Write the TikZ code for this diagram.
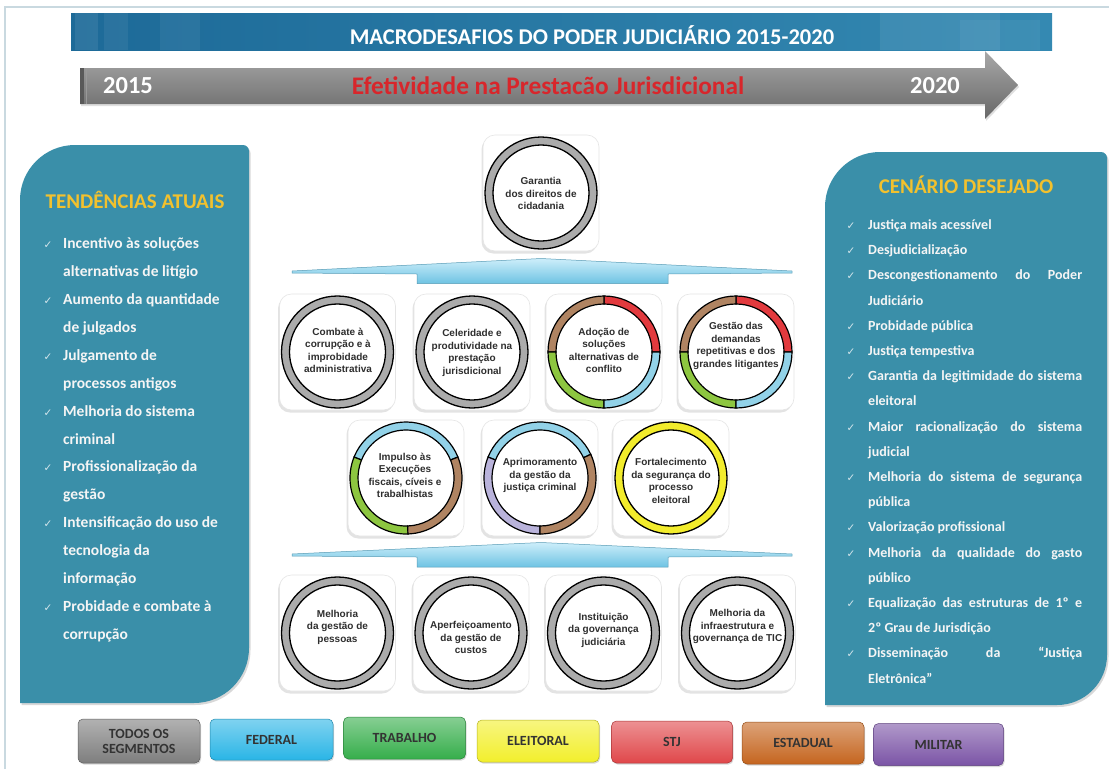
\documentclass[tikz,border=0pt]{standalone}
\usepackage{fontspec}
\setmainfont{Carlito}
\newfontfamily\arialf{Liberation Sans}
\newfontfamily\symf{DejaVu Sans}
\usetikzlibrary{shadows,calc}
\definecolor{panel}{HTML}{3A8FA9}
\definecolor{gold}{HTML}{F2C12E}
\definecolor{bannerA}{HTML}{1D6A98}
\definecolor{bannerB}{HTML}{3489B2}
\definecolor{arrowT}{HTML}{A8A8A8}
\definecolor{arrowB}{HTML}{676767}
\definecolor{redtxt}{HTML}{D8262B}
\definecolor{framec}{HTML}{C9D9E0}
\definecolor{ringgray}{HTML}{ABABAB}
\definecolor{rbrown}{HTML}{B08462}
\definecolor{rred}{HTML}{E23A3E}
\definecolor{rblue}{HTML}{92D2E8}
\definecolor{rgreen}{HTML}{8DC640}
\definecolor{rpurple}{HTML}{B9B3DB}
\definecolor{ryellow}{HTML}{F2EC2C}
\definecolor{brT}{HTML}{CDEEFA}
\definecolor{brB}{HTML}{6EC3E3}
\definecolor{lgray}{HTML}{7E7E7E}
\definecolor{lblue}{HTML}{2AB5E6}
\definecolor{lgreen}{HTML}{36AE4B}
\definecolor{lyellow}{HTML}{F2EF2C}
\definecolor{lred}{HTML}{E0474A}
\definecolor{lbrown}{HTML}{C5651F}
\definecolor{lpurple}{HTML}{7B54A6}
\newcommand\J[1]{\makebox[214pt][s]{#1}}
\newcommand\rseg[4]{\filldraw[fill=#4, draw=black, line width=1.2pt] ($(#1.center)+(#2:56pt)$) arc[start angle=#2, end angle=#3, radius=56pt] -- ($(#1.center)+(#3:48pt)$) arc[start angle=#3, end angle=#2, radius=48pt] -- cycle;}
\newcommand\fullring[2]{\filldraw[fill=#2, draw=black, line width=1.3pt, even odd rule] (#1.center) circle[radius=56pt] (#1.center) circle[radius=48pt];}
\begin{document}
\begin{tikzpicture}[x=1pt,y=-1pt,
  box/.style={rectangle, rounded corners=12pt, fill=white, draw=black!10, line width=0.6pt, minimum width=116pt, minimum height=116pt, inner sep=0pt, drop shadow={opacity=0.22, shadow xshift=-1.5pt, shadow yshift=-2.5pt}},
  ctext/.style={font=\arialf\bfseries\fontsize{10}{12.5}\selectfont, text=black!82, align=center, inner sep=0pt},
  ltext/.style={font=\bfseries\fontsize{15.5}{18}\selectfont, text=white!96!black, anchor=base west, inner sep=0pt},
  rtext/.style={font=\bfseries\fontsize{14}{16}\selectfont, text=white!96!black, anchor=base west, inner sep=0pt},
  chk/.style={font=\symf\fontsize{10.5}{11}\selectfont, text=white!78!panel, anchor=base, inner sep=0pt},
  legbox/.style={rectangle, rounded corners=5pt, top color=#1!60!white, bottom color=#1, draw=#1!75!black, line width=0.5pt, minimum width=122pt, minimum height=42pt, inner sep=1pt, font=\bfseries\fontsize{14}{15}\selectfont, text=black!80, align=center, drop shadow={opacity=0.3, shadow xshift=1pt, shadow yshift=-1.5pt}},
  bracket/.style={top color=brT, bottom color=brB, draw=brB!80!black, line width=0.5pt}
]
\useasboundingbox (0,0) rectangle (1109,769);
\fill[white] (0,0) rectangle (1109,769);
\draw[framec, line width=1.2pt] (5,769) -- (5,7) -- (1109,7);

% banner
\node (banner) [rectangle, minimum width=981pt, minimum height=37pt, inner sep=0pt, left color=bannerA, right color=bannerB] at (561.5,31.5) {};
\fill[white, opacity=0.08] (75,13) rectangle (98,50);
\fill[white, opacity=0.06] (104,13) rectangle (128,50);
\fill[white, opacity=0.05] (160,13) rectangle (200,50);
\fill[white, opacity=0.07] (880,13) rectangle (1000,50);
\fill[white, opacity=0.05] (960,20) rectangle (1040,50);
\node (title) [font=\bfseries\fontsize{22.5}{24}\selectfont, text=white, inner sep=0pt] at (592,35) {MACRODESAFIOS DO PODER JUDICIÁRIO 2015-2020};

% gray arrow
\shade[top color=arrowT, bottom color=arrowB, drop shadow={opacity=0.25, shadow xshift=1pt, shadow yshift=-2pt}] (80,68) -- (985,68) -- (985,51) -- (1018,85) -- (985,119) -- (985,104) -- (80,104) -- cycle;
\fill[black!65] (80,68) rectangle (84,104);
\fill[black!40] (85.5,68) rectangle (87,104);
\node (y2015) [font=\bfseries\fontsize{24.5}{26}\selectfont, text=white, inner sep=0pt] at (128,86) {2015};
\node (y2020) [font=\bfseries\fontsize{24.5}{26}\selectfont, text=white, inner sep=0pt] at (935,86) {2020};
\node (efet) [font=\bfseries\fontsize{25.3}{27}\selectfont, text=redtxt, inner sep=0pt] at (548,86) {Efetividade na Prestacão Jurisdicional};

% left panel
\fill[panel, drop shadow={opacity=0.3, shadow xshift=1.5pt, shadow yshift=-2pt}] (20,703) -- (20,200) arc[start angle=180, end angle=90, radius=55pt] -- (243,145) arc[start angle=90, end angle=0, radius=6pt] -- (249,648) arc[start angle=0, end angle=-90, radius=55pt] -- cycle;
\node (ltitle) [font=\bfseries\fontsize{21}{23}\selectfont, text=gold, inner sep=0pt] at (135,200) {TENDÊNCIAS ATUAIS};
\foreach \t [count=\i from 0] in {Incentivo às soluções, alternativas de litígio, Aumento da quantidade, de julgados, Julgamento de, processos antigos, Melhoria do sistema, criminal, Profissionalização da, gestão, Intensificação do uso de, tecnologia da, informação, Probidade e combate à, corrupção}
  \node[ltext] (L\i) at (63, 248.5+27.93*\i) {\t};
\foreach \i in {0,2,4,6,8,10,13}
  \node[chk] (LC\i) at (48, 248.5+27.93*\i) {✓};

% right panel
\fill[panel, drop shadow={opacity=0.3, shadow xshift=1.5pt, shadow yshift=-2pt}] (825,705) -- (825,207) arc[start angle=180, end angle=90, radius=55pt] -- (1101,152) arc[start angle=90, end angle=0, radius=6pt] -- (1107,655) arc[start angle=0, end angle=-90, radius=50pt] -- cycle;
\node (rtitle) [font=\bfseries\fontsize{21}{23}\selectfont, text=gold, inner sep=0pt] at (966,185) {CENÁRIO DESEJADO};
\foreach \t [count=\i from 0] in {Justiça mais acessível, Desjudicialização, \J{Descongestionamento do Poder}, Judiciário, Probidade pública, Justiça tempestiva, \J{Garantia da legitimidade do sistema}, eleitoral, \J{Maior racionalização do sistema}, judicial, \J{Melhoria do sistema de segurança}, pública, Valorização profissional, \J{Melhoria da qualidade do gasto}, público, \J{Equalização das estruturas de 1º e}, 2º Grau de Jurisdição, \J{Disseminação da “Justiça}, Eletrônica”}
  \node[rtext] (R\i) at (868, 229.5+25.2*\i) {\t};
\foreach \i in {0,1,2,4,5,6,8,10,12,13,15,17}
  \node[chk] (RC\i) at (851, 229.5+25.2*\i) {✓};

% center boxes
\node[box] (b0) at (541,193) {};
\node[box] (b1) at (337.5,352) {};
\node[box] (b2) at (472,352) {};
\node[box] (b3) at (604,352) {};
\node[box] (b4) at (736,352) {};
\node[box] (b5) at (406,478) {};
\node[box] (b6) at (540,478) {};
\node[box] (b7) at (671,478) {};
\node[box] (b8) at (337.5,633) {};
\node[box] (b9) at (471,633) {};
\node[box] (b10) at (603.5,633) {};
\node[box] (b11) at (737.5,633) {};

% rings
\fullring{b0}{ringgray}
\fullring{b1}{ringgray}
\fullring{b2}{ringgray}
\rseg{b3}{0}{90}{rred}\rseg{b3}{90}{180}{rbrown}\rseg{b3}{180}{270}{rgreen}\rseg{b3}{-90}{0}{rblue}
\rseg{b4}{0}{90}{rred}\rseg{b4}{90}{180}{rbrown}\rseg{b4}{180}{270}{rgreen}\rseg{b4}{-90}{0}{rblue}
\rseg{b5}{22}{158}{rblue}\rseg{b5}{158}{272}{rgreen}\rseg{b5}{-88}{22}{rbrown}
\rseg{b6}{25}{158}{rblue}\rseg{b6}{158}{270}{rpurple}\rseg{b6}{-90}{25}{rbrown}
\fullring{b7}{ryellow}
\fullring{b8}{ringgray}
\fullring{b9}{ringgray}
\fullring{b10}{ringgray}
\fullring{b11}{ringgray}

% ring texts
\node[ctext] (t0) at (541,193.5) {Garantia\\dos direitos de\\cidadania};
\node[ctext] (t1) at (338,350.5) {Combate à\\corrupção e à\\improbidade\\administrativa};
\node[ctext] (t2) at (472,353) {Celeridade e\\produtividade na\\prestação\\jurisdicional};
\node[ctext] (t3) at (604,350.5) {Adoção de\\soluções\\alternativas de\\conflito};
\node[ctext] (t4) at (736,346) {Gestão das\\demandas\\repetitivas e dos\\grandes litigantes};
\node[ctext] (t5) at (405,475.5) {Impulso às\\Execuções\\fiscais, cíveis e\\trabalhistas};
\node[ctext] (t6) at (540,475.5) {Aprimoramento\\da gestão da\\justiça criminal};
\node[ctext] (t7) at (671,481) {Fortalecimento\\da segurança do\\processo\\eleitoral};
\node[ctext] (t8) at (337.5,627) {Melhoria\\da gestão de\\pessoas};
\node[ctext] (t9) at (471,637.5) {Aperfeiçoamento\\da gestão de\\custos};
\node[ctext] (t10) at (603.5,630) {Instituição\\da governança\\judiciária};
\node[ctext] (t11) at (737.5,626.5) {Melhoria da\\infraestrutura e\\governança de TIC};

% brackets
\path[bracket] (292,271) -- (541,258.5) -- (792,271) -- (792,273) -- (668,274) -- (668,283.5) -- (417,283.5) -- (417,274) -- (292,273) -- cycle;
\path[bracket] (292,554) -- (541,542.5) -- (792,554) -- (792,556) -- (668,557) -- (668,567) -- (417,567) -- (417,557) -- (292,556) -- cycle;

% legend
\node[legbox=lgray, minimum height=44pt] (g1) at (139,741) {TODOS OS\\SEGMENTOS};
\node[legbox=lblue, minimum width=123pt, minimum height=41pt] (g2) at (271.5,739.5) {FEDERAL};
\node[legbox=lgreen] (g3) at (404.5,738) {TRABALHO};
\node[legbox=lyellow] (g4) at (538,741) {ELEITORAL};
\node[legbox=lred, minimum width=121pt] (g5) at (672,742) {STJ};
\node[legbox=lbrown] (g6) at (803,743) {ESTADUAL};
\node[legbox=lpurple, minimum width=130pt] (g7) at (938.5,744.5) {MILITAR};
\end{tikzpicture}
\end{document}
